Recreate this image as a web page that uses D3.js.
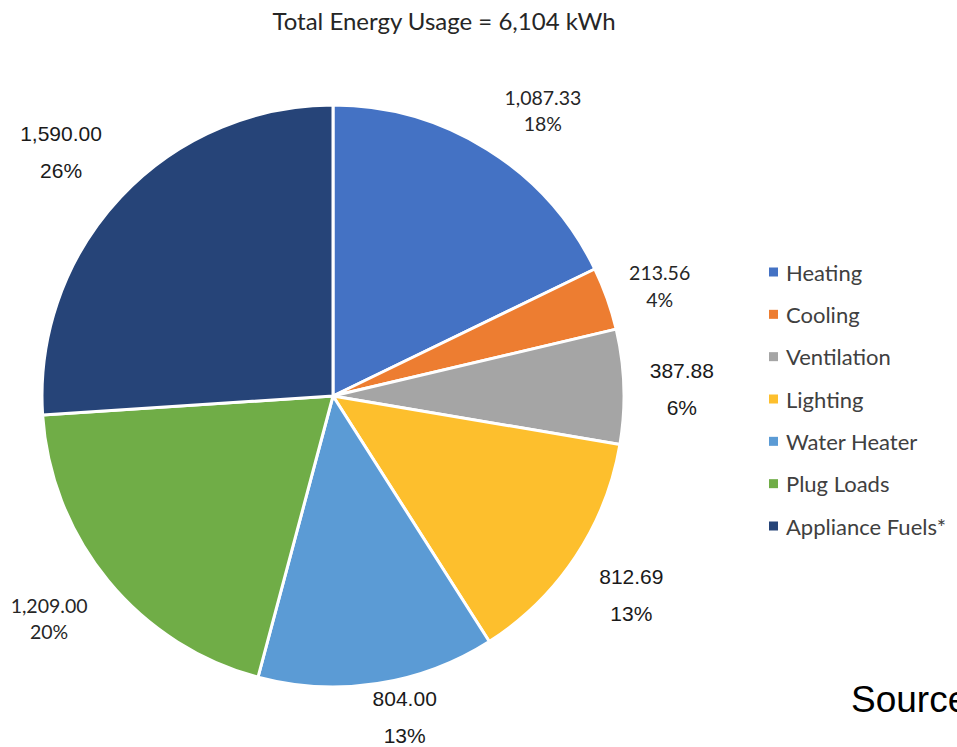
<!DOCTYPE html>
<html>
<head>
<meta charset="utf-8">
<script src="https://cdn.jsdelivr.net/npm/d3@7/dist/d3.min.js"></script>
<style>
  html, body { margin: 0; padding: 0; background: #fff; overflow: hidden; }
  svg { display: block; }
</style>
</head>
<body>
<svg id="chart" width="957" height="747"></svg>
<script>
// Household energy use by end use (kWh)
const categories = ["Heating", "Cooling", "Ventilation", "Lighting", "Water Heater", "Plug Loads", "Appliance Fuels*"];
const values = [1087.33, 213.56, 387.88, 812.69, 804.00, 1209.00, 1590.00];
const percentLabels = ["18%", "4%", "6%", "13%", "13%", "20%", "26%"];
const valueLabels = ["1,087.33", "213.56", "387.88", "812.69", "804.00", "1,209.00", "1,590.00"];
const colors = ["#4472C4", "#ED7D31", "#A5A5A5", "#FDBF2D", "#5B9BD5", "#70AD47", "#264478"];
const titleText = "Total Energy Usage = 6,104 kWh";

// label typography per slice: "c" = humanist face, "h" = grotesque face
const labelFace = ["c", "c", "h", "h", "h", "c", "h"];
// small hand offsets for the data labels around the pie
const labelNudge = [[23, 13], [-5, 8], [-3, 4], [5, 4], [18, -27], [-12, -1], [-15, -3]];

const svg = d3.select("#chart");
const cx = 333, cy = 396, R = 291;

const humanist = "Lato, 'Open Sans', sans-serif";
const grotesque = "'Liberation Sans', Arial, sans-serif";

svg.append("text")
  .attr("x", 444).attr("y", 30)
  .attr("text-anchor", "middle")
  .attr("font-family", humanist)
  .attr("font-size", 24)
  .attr("fill", "#262626")
  .text(titleText);

const data = categories.map((c, i) => ({ name: c, value: values[i], i }));

const pie = d3.pie().value(d => d.value).sort(null);
const arcs = pie(data);
const arc = d3.arc().innerRadius(0).outerRadius(R);
const labelArc = d3.arc().innerRadius(352).outerRadius(352);

const g = svg.append("g").attr("transform", `translate(${cx},${cy})`);

g.selectAll("path.slice")
  .data(arcs)
  .join("path")
  .attr("class", "slice")
  .attr("d", arc)
  .attr("fill", d => colors[d.data.i])
  .attr("stroke", "#fff")
  .attr("stroke-width", 3)
  .attr("stroke-linejoin", "round");

const lab = g.selectAll("g.label")
  .data(arcs)
  .join("g")
  .attr("class", "label")
  .attr("transform", d => {
    const [x, y] = labelArc.centroid(d);
    const n = labelNudge[d.data.i];
    return `translate(${x + n[0]},${y + n[1]})`;
  });

lab.each(function(d) {
  const i = d.data.i;
  const sel = d3.select(this);
  const isH = labelFace[i] === "h";
  const gap = isH ? 37 : 26.5;
  const fs = isH ? 21 : 19.5;
  const ff = isH ? grotesque : humanist;
  const col = isH ? "#1a1a1a" : "#262626";
  sel.append("text")
    .attr("text-anchor", "middle")
    .attr("dominant-baseline", "central")
    .attr("y", -gap / 2)
    .attr("font-family", ff).attr("font-size", fs).attr("fill", col)
    .text(valueLabels[i]);
  sel.append("text")
    .attr("text-anchor", "middle")
    .attr("dominant-baseline", "central")
    .attr("y", gap / 2)
    .attr("font-family", ff).attr("font-size", fs).attr("fill", col)
    .text(percentLabels[i]);
});

// legend
const legendY = d3.scalePoint().domain(categories).range([272, 526]);
const legend = svg.append("g").selectAll("g")
  .data(categories)
  .join("g")
  .attr("transform", d => `translate(769,${legendY(d)})`);

legend.append("rect")
  .attr("x", 0).attr("y", -4.5)
  .attr("width", 9).attr("height", 9)
  .attr("fill", (d, i) => colors[i]);

legend.append("text")
  .attr("x", 17).attr("y", 0)
  .attr("dominant-baseline", "central")
  .attr("font-family", humanist)
  .attr("font-size", 22)
  .attr("fill", "#404040")
  .text(d => d);

svg.append("text")
  .attr("x", 851).attr("y", 712)
  .attr("font-family", grotesque)
  .attr("font-size", 37)
  .attr("fill", "#000")
  .text("Source");
</script>
</body>
</html>
